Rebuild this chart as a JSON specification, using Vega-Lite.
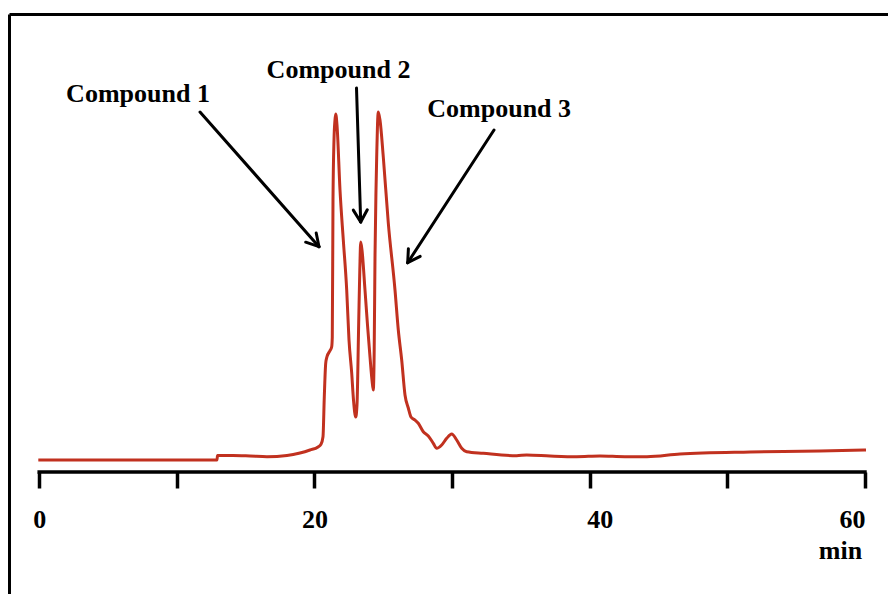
{
  "$schema": "https://vega.github.io/schema/vega-lite/v6.json",
  "width": 879,
  "height": 580,
  "autosize": {"type": "none"},
  "padding": {"left": 9, "top": 14, "right": 0, "bottom": 0},
  "background": "white",
  "config": {"view": {"stroke": null}, "axis": {"grid": false}},
  "datasets": {
    "signal": [
      {"t": -0.065, "v": 12}, {"t": 12.919, "v": 12}, {"t": 12.955, "v": 16.5}, {"t": 14.081, "v": 16.5},
      {"t": 15.317, "v": 16}, {"t": 16.552, "v": 15.3}, {"t": 18.005, "v": 16.5}, {"t": 18.949, "v": 19},
      {"t": 19.676, "v": 22}, {"t": 20.257, "v": 25}, {"t": 20.475, "v": 27.7}, {"t": 20.621, "v": 35.3},
      {"t": 20.715, "v": 75.3}, {"t": 20.817, "v": 108.7}, {"t": 20.911, "v": 115.3}, {"t": 21.129, "v": 121.3},
      {"t": 21.253, "v": 125.3}, {"t": 21.296, "v": 135}, {"t": 21.347, "v": 272}, {"t": 21.42, "v": 332},
      {"t": 21.492, "v": 352}, {"t": 21.543, "v": 358}, {"t": 21.638, "v": 347}, {"t": 21.856, "v": 282},
      {"t": 22.096, "v": 232}, {"t": 22.343, "v": 182}, {"t": 22.51, "v": 132}, {"t": 22.706, "v": 99},
      {"t": 22.837, "v": 72}, {"t": 22.997, "v": 55}, {"t": 23.091, "v": 67}, {"t": 23.214, "v": 149},
      {"t": 23.295, "v": 202}, {"t": 23.36, "v": 230}, {"t": 23.454, "v": 222}, {"t": 23.672, "v": 182},
      {"t": 23.854, "v": 147}, {"t": 24.036, "v": 115}, {"t": 24.181, "v": 92}, {"t": 24.275, "v": 82},
      {"t": 24.341, "v": 122}, {"t": 24.399, "v": 215}, {"t": 24.472, "v": 282}, {"t": 24.522, "v": 315},
      {"t": 24.58, "v": 347}, {"t": 24.638, "v": 360}, {"t": 24.762, "v": 352}, {"t": 25.002, "v": 315},
      {"t": 25.365, "v": 249}, {"t": 25.852, "v": 182}, {"t": 26.092, "v": 142}, {"t": 26.339, "v": 112},
      {"t": 26.579, "v": 77}, {"t": 26.819, "v": 64}, {"t": 27.014, "v": 55}, {"t": 27.305, "v": 52},
      {"t": 27.545, "v": 48.7}, {"t": 27.908, "v": 40.3}, {"t": 28.272, "v": 36}, {"t": 28.635, "v": 28.7},
      {"t": 28.882, "v": 23.7}, {"t": 29.245, "v": 27}, {"t": 29.609, "v": 33.7}, {"t": 29.972, "v": 38},
      {"t": 30.335, "v": 32}, {"t": 30.699, "v": 23.7}, {"t": 31.062, "v": 20.3}, {"t": 32.268, "v": 18.7},
      {"t": 34.695, "v": 16.3}, {"t": 35.421, "v": 17}, {"t": 37.114, "v": 16}, {"t": 39.054, "v": 15.3},
      {"t": 40.747, "v": 16}, {"t": 42.563, "v": 15.3}, {"t": 44.162, "v": 15.3}, {"t": 46.56, "v": 18},
      {"t": 51.646, "v": 20}, {"t": 56.732, "v": 21}, {"t": 60.074, "v": 22}
    ],
    "arrows": [
      {"x": 11.684, "y": 360, "x2": 20.33, "y2": 225.3},
      {"x": 20.127, "y": 239, "x2": 20.33, "y2": 225.3},
      {"x": 19.363, "y": 229.8, "x2": 20.33, "y2": 225.3},
      {"x": 23.055, "y": 384, "x2": 23.36, "y2": 250},
      {"x": 23.839, "y": 262.3, "x2": 23.36, "y2": 250},
      {"x": 22.822, "y": 261.9, "x2": 23.36, "y2": 250},
      {"x": 33.045, "y": 342, "x2": 26.775, "y2": 209.3},
      {"x": 27.683, "y": 215.6, "x2": 26.775, "y2": 209.3},
      {"x": 26.826, "y": 223.3, "x2": 26.775, "y2": 209.3}
    ],
    "labels": [
      {"x": 7.179, "y": 370.3, "text": "Compound 1"},
      {"x": 21.747, "y": 394.3, "text": "Compound 2"},
      {"x": 33.423, "y": 354.7, "text": "Compound 3"}
    ],
    "baseline": [
      {"start": 0, "end": 60, "level": 0}
    ]
  },
  "resolve": {"axis": {"x": "independent", "y": "independent"}},
  "layer": [
    {
      "data": {"name": "signal"},
      "mark": {"type": "line", "color": "#c1311f", "strokeWidth": 3, "interpolate": "monotone"},
      "encoding": {
        "x": {
          "field": "t", "type": "quantitative",
          "scale": {"domain": [-2.194, 61.673], "nice": false, "zero": false},
          "axis": {
            "orient": "bottom", "offset": -122, "domain": false,
            "values": [0, 10, 20, 30, 40, 50, 60],
            "ticks": true, "tickSize": 16, "tickWidth": 3.5, "tickColor": "black",
            "labelExpr": "datum.value % 20 == 0 ? datum.label : ''",
            "labelFont": "Liberation Serif", "labelFontWeight": "bold", "labelFontSize": 26,
            "labelColor": "black", "labelBaseline": "alphabetic", "labelPadding": 39,
            "labelFlush": false, "labelOverlap": false,
            "labelAlign": {"condition": {"test": "datum.value == 60", "value": "right"}, "value": "center"},
            "labelOffset": {"condition": {"test": "datum.value == 40", "value": 10}, "value": 0},
            "title": "min", "titleFont": "Liberation Serif", "titleFontWeight": "bold", "titleFontSize": 26,
            "titleColor": "black", "titleX": 831, "titleY": 86, "titleAlign": "center",
            "titleBaseline": "alphabetic", "titleAngle": 0
          }
        },
        "y": {
          "field": "v", "type": "quantitative",
          "scale": {"domain": [-122, 458], "nice": false, "zero": false},
          "axis": {"orient": "left", "domain": true, "domainWidth": 3, "domainColor": "black",
                   "ticks": false, "labels": false, "title": null}
        }
      }
    },
    {
      "data": {"name": "baseline"},
      "mark": {"type": "rule", "color": "black", "strokeWidth": 3.5, "strokeCap": "square"},
      "encoding": {
        "x": {"field": "start", "type": "quantitative", "scale": {"domain": [-2.194, 61.673], "nice": false, "zero": false}, "axis": null},
        "x2": {"field": "end"},
        "y": {"field": "level", "type": "quantitative", "scale": {"domain": [-122, 458], "nice": false, "zero": false}, "axis": null}
      }
    },
    {
      "data": {"name": "arrows"},
      "mark": {"type": "rule", "color": "black", "strokeWidth": 3, "strokeCap": "round"},
      "encoding": {
        "x": {"field": "x", "type": "quantitative", "scale": {"domain": [-2.194, 61.673], "nice": false, "zero": false}, "axis": null},
        "x2": {"field": "x2"},
        "y": {"field": "y", "type": "quantitative", "scale": {"domain": [-122, 458], "nice": false, "zero": false}, "axis": null},
        "y2": {"field": "y2"}
      }
    },
    {
      "data": {"name": "labels"},
      "mark": {"type": "text", "font": "Liberation Serif", "fontWeight": "bold", "fontSize": 26,
               "color": "black", "align": "center", "baseline": "alphabetic"},
      "encoding": {
        "x": {"field": "x", "type": "quantitative", "scale": {"domain": [-2.194, 61.673], "nice": false, "zero": false},
              "axis": {"orient": "top", "domain": true, "domainWidth": 3, "domainColor": "black",
                       "ticks": false, "labels": false, "title": null}},
        "y": {"field": "y", "type": "quantitative", "scale": {"domain": [-122, 458], "nice": false, "zero": false}, "axis": null},
        "text": {"field": "text"}
      }
    }
  ]
}
